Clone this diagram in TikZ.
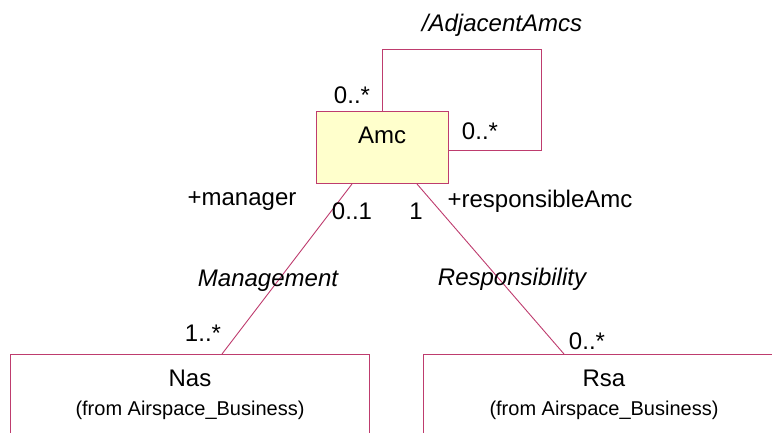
\documentclass[tikz,border=0pt]{standalone}
\usepackage{fontspec}
\setmainfont{Liberation Sans}
\definecolor{umlline}{RGB}{190,60,110}
\definecolor{umlfill}{RGB}{255,255,204}
\begin{document}
\begin{tikzpicture}[x=1pt,y=-1pt,
  assoc/.style={draw=umlline,line width=0.9pt},
  lbl/.style={inner sep=0pt,font=\fontsize{24}{28}\selectfont},
  ilbl/.style={inner sep=0pt,font=\fontsize{24}{28}\selectfont\itshape},
  subl/.style={inner sep=0pt,font=\fontsize{20}{24}\selectfont}]
\useasboundingbox (0,0) rectangle (772,433);
% classes
\path[draw=umlline,fill=umlfill,line width=1pt] (316,112) rectangle (448,184);
\node[lbl] (amc) at (382,135) {Amc};
\path[draw=umlline,line width=1pt] (10,440) -- (10,354) -- (369,354) -- (369,440);
\node[lbl] (nas) at (190,378) {Nas};
\node[subl] (nasfrom) at (190,410) {(from Airspace\_Business)};
\path[draw=umlline,line width=1pt] (423,440) -- (423,354) -- (780,354);
\node[lbl] (rsa) at (604,378) {Rsa};
\node[subl] (rsafrom) at (604,410) {(from Airspace\_Business)};
% association end points
\coordinate (loopA) at (382,112);
\coordinate (loopB) at (448,150);
\coordinate (mgrA) at (352,184);
\coordinate (mgrB) at (222,354);
\coordinate (rspA) at (417,184);
\coordinate (rspB) at (564,354);
% self association
\draw[assoc] (loopA) |- (541,49) |- (loopB);
\node[ilbl] (adj) at (502,25) {/AdjacentAmcs};
\node[lbl] (m1) at (352,95) {0..*};
\node[lbl] (m2) at (480,131) {0..*};
% management
\draw[assoc] (mgrA) -- (mgrB);
\node[ilbl] (mg) at (268,281) {Management};
\node[lbl] (mgr) at (242,201) {+manager};
\node[lbl] (m3) at (352,211) {0..1};
\node[lbl] (m4) at (203,333) {1..*};
% responsibility
\draw[assoc] (rspA) -- (rspB);
\node[ilbl] (rs) at (512,279) {Responsibility};
\node[lbl] (rsp) at (540,201) {+responsibleAmc};
\node[lbl] (m5) at (416,211) {1};
\node[lbl] (m6) at (587,341) {0..*};
\end{tikzpicture}
\end{document}
